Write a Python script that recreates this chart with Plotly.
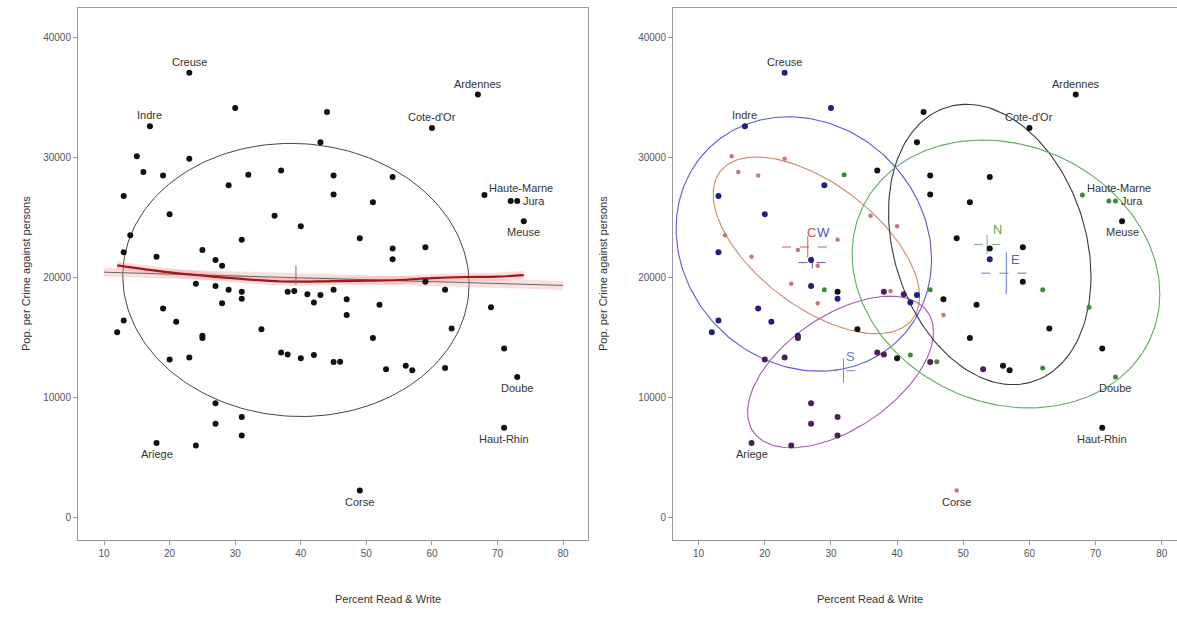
import numpy as np
import plotly.graph_objects as go

# ---------------- data ----------------
literacy = [23, 30, 17, 44, 67, 60, 43, 15, 23, 16, 19, 37, 32, 45, 54, 29, 13, 45, 51, 68,
            72, 73, 20, 36, 74, 40, 14, 31, 49, 13, 25, 54, 59, 54, 18, 27, 28, 24, 27, 29,
            31, 31, 59, 38, 39, 41, 43, 42, 45, 47, 62, 28, 52, 69, 47, 19, 21, 13, 12, 34,
            63, 25, 25, 51, 71, 37, 38, 40, 42, 20, 23, 45, 46, 53, 56, 57, 62, 73, 27, 31,
            27, 31, 18, 24, 71, 49]
crime_pers = [37014, 34075, 32570, 33760, 35203, 32415, 31225, 30065, 29845, 28750, 28465, 28870,
              28530, 28465, 28340, 27650, 26747, 26870, 26226, 26835, 26335, 26335, 25236, 25110,
              24640, 24234, 23480, 23105, 23230, 22070, 22260, 22385, 22480, 21475, 21695, 21410,
              20940, 19437, 19250, 18935, 18780, 18180, 19602, 18780, 18840, 18560, 18500, 17870,
              18935, 18150, 18935, 17810, 17680, 17488, 16835, 17370, 16270, 16365, 15390, 15647,
              15705, 15110, 14920, 14920, 14045, 13700, 13540, 13230, 13510, 13135, 13290, 12915,
              12935, 12320, 12600, 12225, 12415, 11660, 9474, 8340, 7775, 6800, 6173, 5955,
              7430, 2199]
region = ["C", "C", "C", "N", "N", "N", "N", "W", "W", "W", "W", "N", "E", "N", "N", "C", "C", "N", "N", "E",
          "E", "E", "C", "W", "N", "W", "W", "W", "N", "C", "W", "N", "N", "C", "W", "C", "W", "W", "C", "E",
          "N", "C", "N", "S", "W", "S", "C", "C", "E", "N", "E", "W", "N", "E", "W", "C", "C", "C", "C", "N",
          "N", "C", "S", "N", "N", "S", "S", "N", "E", "S", "S", "S", "E", "S", "N", "N", "E", "E", "S", "S",
          "S", "S", "S", "S", "N", "W"]
dept_label = {0: "Creuse", 2: "Indre", 4: "Ardennes", 5: "Cote-d'Or", 19: "Haute-Marne", 21: "Jura",
              24: "Meuse", 77: "Doube", 84: "Haut-Rhin", 85: "Corse", 82: "Ariege"}

# straight fit and smooth (loess) curve, left panel
fit_x = [10, 80]
fit_y = [20400, 19300]
smooth_x = [12, 20, 30, 37, 45, 50, 55, 60, 65, 70, 74]
smooth_y = [20970, 20380, 19880, 19625, 19660, 19690, 19750, 19910, 20000, 20030, 20160]

# overall data ellipse (left panel)
all_center = [39.26, 19754]
all_halfwidth = [26.4, 11380]
all_r = -0.03

# group data ellipses (right panel)
groups = ["C", "W", "S", "N", "E"]
ell_cx = [25.9, 27.8, 31.45, 54.0, 56.45]
ell_cy = [22750, 22635, 12085, 22710, 20250]
ell_sx = [19.3, 15.6, 14.05, 15.3, 23.25]
ell_sy = [10600, 7365, 6315, 11680, 11160]
ell_r = [-0.12, -0.58, 0.53, -0.23, -0.15]

# group centroid crosses and labels
cross_x = [26.5, 27.2, 31.9, 53.6, 56.5]
cross_y = [22500, 21200, 12190, 22710, 20320]
cross_hx = [3.9, 2.1, 2.3, 2.0, 3.75]
cross_hy = [900, 500, 1000, 800, 1740]
glabel_x = [27.0, 28.9, 32.9, 55.1, 57.85]
glabel_y = [23720, 23720, 13375, 24000, 21420]

x_ticks = [10, 20, 30, 40, 50, 60, 70, 80]
y_ticks = [0, 10000, 20000, 30000, 40000]

# ---------------- styles ----------------
FONT = "Liberation Sans, Arial, sans-serif"
ell_color = {"C": "#5a5ad2", "W": "#c98a6a", "S": "#a458a8", "N": "#3a3a3a", "E": "#62aa62"}
pt_color = {"C": "#20207e", "W": "#c47a7a", "S": "#4a1f5a", "N": "#111111", "E": "#3d8a3d"}
pt_size = {"C": 6, "W": 4.5, "S": 6, "N": 6, "E": 5}
lab_color = {"C": "#d05050", "W": "#5050c8", "S": "#6a80b8", "N": "#5aa85a", "E": "#5565c8"}
cross_color = {"C": "#d05a5a", "W": "#5a5ac8", "S": "#7a8ab0", "N": "#88aa88", "E": "#6a78c8"}
label_style = {"Creuse": "top", "Indre": "top", "Ardennes": "top", "Cote-d'Or": "top",
               "Haute-Marne": "topright", "Jura": "right", "Meuse": "bottom", "Doube": "bottom",
               "Haut-Rhin": "bottom", "Corse": "bottom", "Ariege": "bottom"}

t = np.linspace(0, 2 * np.pi, 200)


def ellipse(cx, cy, sx, sy, r):
    x = cx + sx * np.cos(t)
    y = cy + sy * (r * np.cos(t) + np.sqrt(1 - r * r) * np.sin(t))
    return x, y


fig = go.Figure()

# ---------- left panel ----------
ex, ey = ellipse(all_center[0], all_center[1], all_halfwidth[0], all_halfwidth[1], all_r)
fig.add_trace(go.Scatter(x=ex, y=ey, mode="lines", line=dict(color="#444", width=1),
                         xaxis="x", yaxis="y", hoverinfo="skip"))
fig.add_trace(go.Scatter(x=fit_x, y=fit_y, mode="lines", line=dict(color="rgba(240,150,150,0.3)", width=9),
                         xaxis="x", yaxis="y", hoverinfo="skip"))
fig.add_trace(go.Scatter(x=smooth_x, y=smooth_y, mode="lines", line=dict(color="rgba(240,140,140,0.3)", width=8, shape="spline"),
                         xaxis="x", yaxis="y", hoverinfo="skip"))
fig.add_trace(go.Scatter(x=fit_x, y=fit_y, mode="lines", line=dict(color="#666", width=1),
                         xaxis="x", yaxis="y", hoverinfo="skip"))
fig.add_trace(go.Scatter(x=smooth_x, y=smooth_y, mode="lines", line=dict(color="#a01818", width=2.2, shape="spline"),
                         xaxis="x", yaxis="y", hoverinfo="skip"))
# centre cross
fig.add_trace(go.Scatter(x=[all_center[0], all_center[0]], y=[all_center[1] - 400, all_center[1] + 1200],
                         mode="lines", line=dict(color="#777", width=1), xaxis="x", yaxis="y", hoverinfo="skip"))
fig.add_trace(go.Scatter(x=literacy, y=crime_pers, mode="markers",
                         marker=dict(color="#111", size=6), xaxis="x", yaxis="y"))

# ---------- right panel ----------
for i, g in enumerate(groups):
    ex, ey = ellipse(ell_cx[i], ell_cy[i], ell_sx[i], ell_sy[i], ell_r[i])
    fig.add_trace(go.Scatter(x=ex, y=ey, mode="lines", line=dict(color=ell_color[g], width=1.1),
                             xaxis="x2", yaxis="y2", hoverinfo="skip"))
for i, g in enumerate(groups):
    fig.add_trace(go.Scatter(x=[cross_x[i] - cross_hx[i], cross_x[i] + cross_hx[i]], y=[cross_y[i], cross_y[i]],
                             mode="lines", line=dict(color=cross_color[g], width=1, dash="dash"),
                             xaxis="x2", yaxis="y2", hoverinfo="skip"))
    fig.add_trace(go.Scatter(x=[cross_x[i], cross_x[i]], y=[cross_y[i] - cross_hy[i], cross_y[i] + cross_hy[i]],
                             mode="lines", line=dict(color=cross_color[g], width=1),
                             xaxis="x2", yaxis="y2", hoverinfo="skip"))
for g in groups:
    xs = [x for x, rg in zip(literacy, region) if rg == g]
    ys = [y for y, rg in zip(crime_pers, region) if rg == g]
    fig.add_trace(go.Scatter(x=xs, y=ys, mode="markers", name=g,
                             marker=dict(color=pt_color[g], size=pt_size[g]),
                             xaxis="x2", yaxis="y2"))

annotations = []
for i, g in enumerate(groups):
    annotations.append(dict(x=glabel_x[i], y=glabel_y[i], xref="x2", yref="y2", text=g, showarrow=False,
                            font=dict(family=FONT, size=13, color=lab_color[g])))

for ax_x, ax_y in (("x", "y"), ("x2", "y2")):
    for idx, name in dept_label.items():
        st = label_style[name]
        a = dict(x=literacy[idx], y=crime_pers[idx], xref=ax_x, yref=ax_y, text=name, showarrow=False,
                 font=dict(family=FONT, size=11, color="#333"))
        if st == "top":
            a.update(xanchor="center", yanchor="bottom", yshift=3)
        elif st == "bottom":
            a.update(xanchor="center", yanchor="top", yshift=-3)
        elif st == "right":
            a.update(xanchor="left", yanchor="middle", xshift=4)
        else:
            a.update(xanchor="left", yanchor="bottom", xshift=3, yshift=-1)
        annotations.append(a)

# axis titles
for xc in (0.2321, 0.7707):
    annotations.append(dict(x=xc, y=-0.11, xref="paper", yref="paper", text="Percent Read & Write",
                            showarrow=False, font=dict(family=FONT, size=11, color="#333"), yanchor="middle"))
for xpix in (18, 603):
    annotations.append(dict(x=(xpix - 78) / 1099, y=0.5, xref="paper", yref="paper",
                            text="Pop. per Crime against persons", textangle=-90, showarrow=False,
                            font=dict(family=FONT, size=11, color="#333")))

axis_common = dict(showgrid=False, zeroline=False, showline=True, linecolor="#999", linewidth=1,
                   ticks="outside", ticklen=4, tickcolor="#999",
                   tickfont=dict(family=FONT, size=10, color="#555"))

fig.update_layout(
    width=1177, height=634,
    margin=dict(l=78, r=0, t=8, b=94),
    paper_bgcolor="white", plot_bgcolor="white",
    showlegend=False,
    xaxis=dict(domain=[0, 0.4641], range=[6.03, 83.8], tickvals=x_ticks, mirror=True, **axis_common),
    yaxis=dict(domain=[0, 1], range=[-1917, 42417], tickvals=y_ticks, tickformat="d", mirror=True, **axis_common),
    xaxis2=dict(domain=[0.5414, 1], range=[6.13, 82.3], tickvals=x_ticks, mirror=True, anchor="y2", **axis_common),
    yaxis2=dict(domain=[0, 1], range=[-1917, 42417], tickvals=y_ticks, tickformat="d", mirror=False, anchor="x2", **axis_common),
    annotations=annotations,
    font=dict(family=FONT),
)

fig.write_html("out.html", config={"displayModeBar": False},
               post_script="document.body.style.margin='0';")
